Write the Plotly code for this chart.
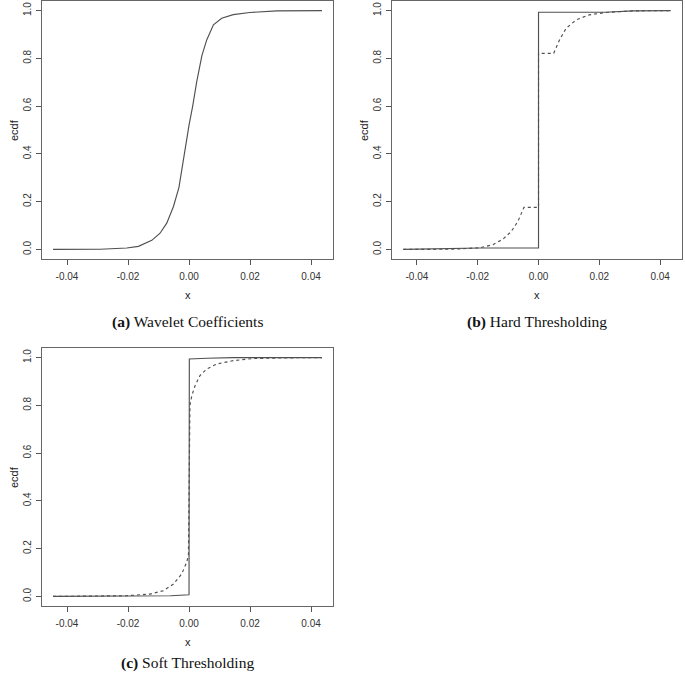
import plotly.graph_objects as go

# (a) wavelet coefficients ecdf
a_x = [-0.0446, -0.0292, -0.0204, -0.0166, -0.0122, -0.0095, -0.0073, -0.0051, -0.0033,
       -0.0019, -0.0008, 0.0, 0.0012, 0.0025, 0.0042, 0.0058, 0.0080, 0.0107, 0.0145,
       0.0199, 0.0288, 0.0436]
a_y = [0.0, 0.001, 0.006, 0.013, 0.038, 0.068, 0.11, 0.18, 0.26, 0.375, 0.46, 0.52, 0.6,
       0.70, 0.81, 0.877, 0.94, 0.968, 0.983, 0.992, 0.9986, 1.0]

# (b) hard thresholding
b_solid_x = [-0.0445, -0.0193, 0.0, 0.0, 0.022, 0.031, 0.0435]
b_solid_y = [0.0, 0.006, 0.006, 0.993, 0.993, 0.9986, 1.0]
b_dash_x = [-0.0445, -0.0280, -0.0193, -0.0150, -0.0117, -0.0090, -0.0068, -0.0048, 0.0, 0.0,
            0.0050, 0.0069, 0.0091, 0.0124, 0.0167, 0.0222, 0.031, 0.0435]
b_dash_y = [0.0, 0.001, 0.007, 0.02, 0.043, 0.075, 0.117, 0.176, 0.176, 0.821,
            0.821, 0.877, 0.926, 0.961, 0.982, 0.992, 0.9986, 1.0]

# (c) soft thresholding
c_solid_x = [-0.0446, -0.0204, -0.0060, 0.0, 0.0001, 0.0058, 0.0145, 0.0436]
c_solid_y = [0.0, 0.001, 0.003, 0.007, 0.994, 0.997, 1.0, 1.0]
c_dash_x = [-0.0446, -0.0204, -0.0128, -0.0084, -0.0051, -0.0024, -0.0008, -0.0002, 0.0003,
            0.0009, 0.0020, 0.0036, 0.0058, 0.0091, 0.0145, 0.021, 0.031, 0.0436]
c_dash_y = [0.0, 0.003, 0.01, 0.024, 0.052, 0.094, 0.142, 0.17, 0.80, 0.84, 0.883, 0.925,
            0.952, 0.973, 0.987, 0.996, 0.9986, 1.0]

x_ticks = [-0.04, -0.02, 0.0, 0.02, 0.04]
x_labels = ["-0.04", "-0.02", "0.00", "0.02", "0.04"]
y_ticks = [0.0, 0.2, 0.4, 0.6, 0.8, 1.0]
y_labels = ["0.0", "0.2", "0.4", "0.6", "0.8", "1.0"]

captions = ["<b>(a)</b> Wavelet Coefficients", "<b>(b)</b> Hard Thresholding",
            "<b>(c)</b> Soft Thresholding"]

W, H = 685, 675
line_col = "#505050"
lw = 1.15

fig = go.Figure()
fig.add_trace(go.Scatter(x=a_x, y=a_y, mode="lines", line=dict(color=line_col, width=lw),
                         xaxis="x", yaxis="y"))
fig.add_trace(go.Scatter(x=b_solid_x, y=b_solid_y, mode="lines",
                         line=dict(color=line_col, width=lw), xaxis="x2", yaxis="y2"))
fig.add_trace(go.Scatter(x=b_dash_x, y=b_dash_y, mode="lines",
                         line=dict(color=line_col, width=lw, dash="3px,3px"),
                         xaxis="x2", yaxis="y2"))
fig.add_trace(go.Scatter(x=c_solid_x, y=c_solid_y, mode="lines",
                         line=dict(color=line_col, width=lw), xaxis="x3", yaxis="y3"))
fig.add_trace(go.Scatter(x=c_dash_x, y=c_dash_y, mode="lines",
                         line=dict(color=line_col, width=lw, dash="3px,3px"),
                         xaxis="x3", yaxis="y3"))

# panel boxes in pixels: left, right, top, bottom, caption offset below box
boxes = [(42, 333, 1, 259, 63), (392, 682, 1, 259, 63), (42, 333, 348, 606, 57)]

tickfont = dict(family="Liberation Sans, Arial", size=10, color="#333")
layout = dict(width=W, height=H, margin=dict(l=0, r=0, t=0, b=0), showlegend=False,
              paper_bgcolor="white", plot_bgcolor="white")


def px(v):
    return v / W


def py(v):
    return 1 - v / H


annotations = []
for i, (l, r, t, b, cap) in enumerate(boxes):
    sfx = "" if i == 0 else str(i + 1)
    layout["xaxis" + sfx] = dict(
        domain=[px(l), px(r)], anchor="y" + sfx, range=[-0.0482, 0.0472],
        tickvals=x_ticks, ticktext=x_labels, ticks="outside", ticklen=5, tickcolor="#555",
        ticklabelstandoff=3,
        showline=True, mirror=True, linecolor="#666", linewidth=1, showgrid=False,
        zeroline=False, tickfont=tickfont, automargin=False)
    layout["yaxis" + sfx] = dict(
        domain=[py(b), py(t)], anchor="x" + sfx, range=[-0.04, 1.04],
        tickvals=y_ticks, ticktext=y_labels, ticks="outside", ticklen=5, tickcolor="#555",
        tickangle=-90, ticklabelstandoff=1, showline=True, mirror=True, linecolor="#666",
        linewidth=1, showgrid=False, zeroline=False, tickfont=tickfont, automargin=False)
    cx = (l + r) / 2
    cy = (t + b) / 2
    annotations.append(dict(text="x", x=px(cx), y=py(b + 36), xref="paper", yref="paper",
                            xanchor="center", yanchor="middle", showarrow=False,
                            font=dict(family="Liberation Sans, Arial", size=11, color="#222")))
    annotations.append(dict(text="ecdf", x=px(l - 28), y=py(cy), xref="paper",
                            yref="paper", textangle=-90, xanchor="center", yanchor="middle",
                            showarrow=False,
                            font=dict(family="Liberation Sans, Arial", size=11, color="#222")))
    annotations.append(dict(text=captions[i], x=px(cx), y=py(b + cap), xref="paper",
                            yref="paper", xanchor="center", yanchor="middle", showarrow=False,
                            font=dict(family="Liberation Serif, DejaVu Serif", size=15.5,
                                      color="#111")))

layout["annotations"] = annotations
fig.update_layout(**layout)
# drop the default 8px page margin so the figure sits at the window origin
fig.write_html("out.html", config={"displayModeBar": False},
               post_script="document.body.style.margin='0';")
